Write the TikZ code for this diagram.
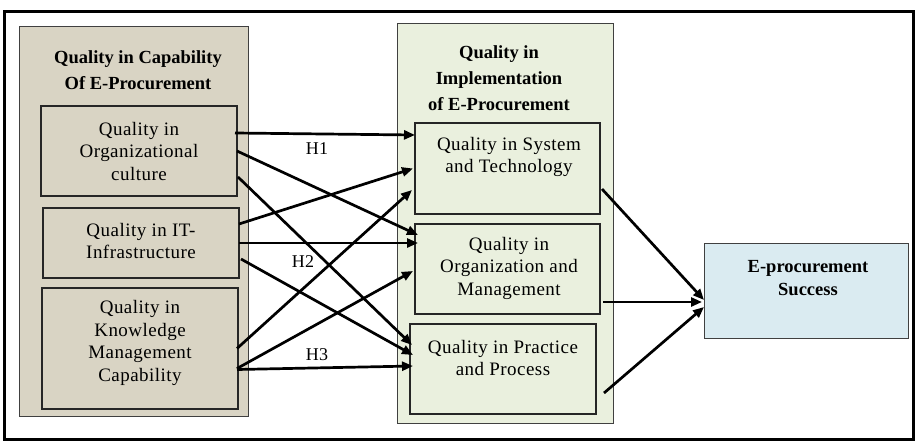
\documentclass[tikz,border=0pt]{standalone}
\usepackage{fontspec}
\setmainfont{Liberation Serif}
\newfontfamily\spfont[LetterSpace=2.5]{Liberation Serif}
\usetikzlibrary{arrows.meta,calc}
\definecolor{tanfill}{RGB}{217,212,196}
\definecolor{greenfill}{RGB}{234,240,222}
\definecolor{bluefill}{RGB}{218,235,241}
\begin{document}
\begin{tikzpicture}[x=1pt,y=-1pt,
  group/.style={draw=black!75, line width=1pt, inner sep=0pt, outer sep=0pt},
  inbox/.style={draw=black!85, line width=1.6pt, inner sep=0pt, outer sep=0pt},
  txt/.style={font=\spfont\fontsize{19}{22.5}\selectfont, align=center, inner sep=0pt},
  ttl/.style={font=\bfseries\fontsize{18.5}{26}\selectfont, align=center, inner sep=0pt},
  hlab/.style={font=\spfont\fontsize{18}{20}\selectfont, inner sep=0pt},
  arr/.style={-{Triangle[length=11pt,width=9pt]}, line width=2.7pt}]
\useasboundingbox (0,0) rectangle (918,442);
\node[draw, line width=3pt, minimum width=909pt, minimum height=428pt, inner sep=0pt] (frame) at (458.5,225) {};
% left group
\node[group, fill=tanfill, minimum width=229pt, minimum height=390pt] (capG) at (133.5,221) {};
\node[ttl] (capT) at (138,70) {Quality in Capability\\Of E-Procurement};
\node[inbox, fill=tanfill, minimum width=196pt, minimum height=90pt] (org) at (139,151) {};
\node[txt] (orgT) at (139,151) {Quality in\\Organizational\\culture};
\node[inbox, fill=tanfill, minimum width=196pt, minimum height=70pt] (it) at (141,243) {};
\node[txt] (itT) at (141,241) {Quality in IT-\\Infrastructure};
\node[inbox, fill=tanfill, minimum width=196pt, minimum height=121pt] (km) at (140,348.5) {};
\node[txt] (kmT) at (140,343) {Quality in\\Knowledge\\Management\\Capability};
% middle group
\node[group, fill=greenfill, minimum width=216pt, minimum height=400pt] (impG) at (505,223) {};
\node[ttl] (impT) at (499,78) {Quality in\\Implementation\\of E-Procurement};
\node[inbox, fill=greenfill, minimum width=185pt, minimum height=91pt] (sys) at (507.5,168.5) {};
\node[txt] (sysT) at (509,157) {Quality in System\\and Technology};
\node[inbox, fill=greenfill, minimum width=185pt, minimum height=90pt] (orgm) at (507.5,269) {};
\node[txt] (orgmT) at (509,268) {Quality in\\Organization and\\Management};
\node[inbox, fill=greenfill, minimum width=186pt, minimum height=90pt] (prac) at (503,369) {};
\node[txt] (pracT) at (503,358) {Quality in Practice\\and Process};
% success
\node[group, fill=bluefill, minimum width=204pt, minimum height=95pt] (succ) at (806,290.5) {};
\node[ttl, font=\bfseries\fontsize{18.5}{23}\selectfont] (succT) at (808,278) {E-procurement\\Success};
% arrows left -> middle
\draw[arr] ($(org.east)+(-2,-18)$) -- ($(sys.west)+(0,-33.5)$);
\draw[arr] ($(org.east)+(0,0)$) -- ($(orgm.west)+(3,-34)$);
\draw[arr] ($(org.east)+(1,26)$) -- ($(prac.west)+(2,-24)$);
\draw[arr] ($(it.east)+(0,-19)$) -- ($(sys.west)+(-2,0)$);
\draw[arr] ($(it.east)+(0,0)$) -- ($(orgm.west)+(3,-26)$);
\draw[arr] ($(it.east)+(2,16)$) -- ($(prac.west)+(3,-14)$);
\draw[arr] ($(km.east)+(-1,0)$) -- ($(sys.west)+(-3,21.5)$);
\draw[arr] ($(km.east)+(-1,20)$) -- ($(orgm.west)+(-2,2)$);
\draw[arr] ($(km.east)+(-1,21)$) -- ($(prac.west)+(3,-3)$);
% labels
\node[hlab] (h1) at (317,149) {H1};
\node[hlab] (h2) at (303,262) {H2};
\node[hlab] (h3) at (317,355) {H3};
% arrows middle -> success
\draw[arr] ($(sys.east)+(2,20.5)$) -- ($(succ.west)+(0,9.5)$);
\draw[arr] ($(orgm.east)+(3,33)$) -- ($(succ.west)+(-2,11.5)$);
\draw[arr] ($(prac.east)+(8,24)$) -- ($(succ.west)+(0,16.5)$);
\end{tikzpicture}
\end{document}
